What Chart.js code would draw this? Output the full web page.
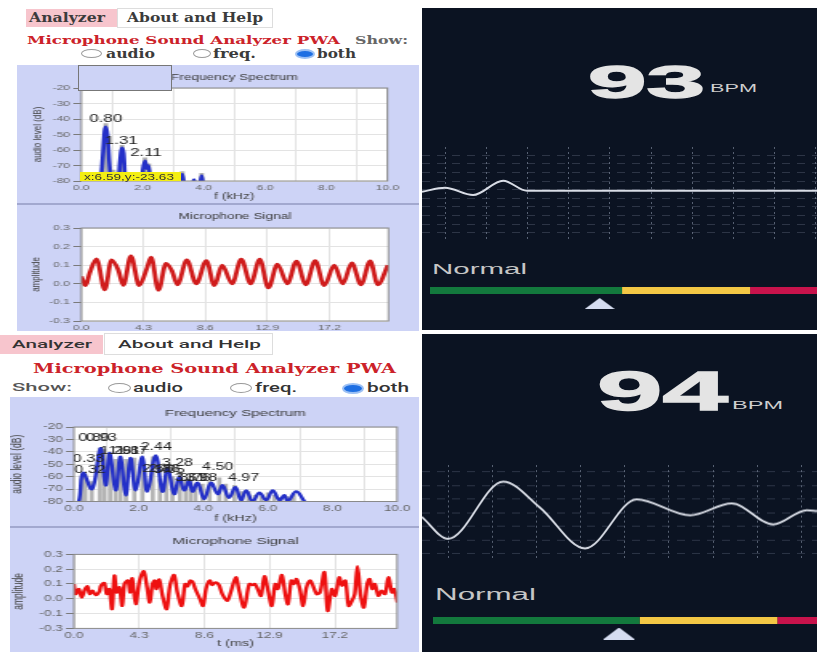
<!DOCTYPE html>
<html>
<head>
<meta charset="utf-8">
<title>Microphone Sound Analyzer and heart rate</title>
<script src="https://cdn.jsdelivr.net/npm/chart.js@4.4.1/dist/chart.umd.min.js"></script>
<style>
  html, body { margin: 0; padding: 0; }
  body { width: 817px; height: 652px; position: relative; overflow: hidden; background: #fff; }
  .box { position: absolute; }
  .t { position: absolute; white-space: nowrap; line-height: 1; transform-origin: 0 0; }
  .sf { font-family: "DejaVu Serif", serif; font-weight: bold; }
  .ss { font-family: Roboto, "DejaVu Sans", sans-serif; font-weight: 500; }
  .ls { font-family: "Liberation Sans", Arial, sans-serif; }
  .big { font-weight: bold; color: #e4e4e4; -webkit-text-stroke: 1.3px #e4e4e4; }
  .radio { position: absolute; border-radius: 50%; border: 1px solid #9a9a9a; background: #fff; box-sizing: border-box; }
  .radio.on { background: #1e6fe3; border: 2px solid #9cc0f4; }
  .stretch { position: absolute; transform-origin: 0 0; transform: scaleX(1.6); }
  .plain { position: absolute; }
</style>
</head>
<body>

<!-- top left: analyzer screenshot -->
<div class="box" style="left:0;top:0;width:421px;height:331px;overflow:hidden">
  <div class="box" style="left:26px;top:9px;width:91px;height:18px;background:#f7c5cd"></div>
  <div class="box" style="left:117px;top:8px;width:156px;height:20px;border:1px solid #ddd;box-sizing:border-box"></div>
  <span class="t sf" data-w="76" style="left:29px;top:11.7px;font-size:12.5px;color:#3b3b3b">Analyzer</span>
  <span class="t sf" data-w="136" style="left:127px;top:11.7px;font-size:12.5px;color:#3b3b3b">About and Help</span>
  <span class="t sf" data-w="313" style="left:27px;top:34.6px;font-size:11.5px;color:#cc2229">Microphone Sound Analyzer PWA</span>
  <span class="t sf" data-w="53" style="left:355px;top:34.6px;font-size:11.5px;color:#666">Show:</span>
  <div class="radio" style="left:81px;top:49px;width:21px;height:9px"></div>
  <span class="t sf" data-w="49" style="left:106px;top:48.2px;font-size:12px;color:#3b3b3b">audio</span>
  <div class="radio" style="left:193px;top:49px;width:18px;height:9px"></div>
  <span class="t sf" data-w="43" style="left:213px;top:48.2px;font-size:12px;color:#3b3b3b">freq.</span>
  <div class="radio on" style="left:295px;top:49px;width:20px;height:10px"></div>
  <span class="t sf" data-w="39" style="left:317px;top:48.2px;font-size:12px;color:#3b3b3b">both</span>

  <div class="box" style="left:17px;top:65px;width:402px;height:266px;background:#cdd3f6"></div>
  <div class="box" style="left:17px;top:203px;width:402px;height:2px;background:#a2a8cf"></div>
  <div class="stretch" style="left:17px;top:66px;width:250.6px;height:139px"><canvas id="specTop"></canvas></div>
  <div class="stretch" style="left:17px;top:205px;width:250.6px;height:140px"><canvas id="sigTop"></canvas></div>
  <div class="box" style="left:78px;top:65px;width:94px;height:26px;border:1px solid #777;box-sizing:border-box;background:#cdd3f6"></div>
  <div class="box" style="left:80px;top:172px;width:101px;height:9px;background:#f3ee12"></div>
  <span class="t ls" data-w="90" style="left:84px;top:172.6px;font-size:8.5px;color:#333">x:6.59,y:-23.63</span>
</div>

<!-- bottom left: analyzer screenshot -->
<div class="box" style="left:0;top:335px;width:103px;height:19px;background:#f7c5cd"></div>
<div class="box" style="left:104px;top:333px;width:169px;height:22px;border:1px solid #ddd;box-sizing:border-box"></div>
<span class="t ss" data-w="80" style="left:12px;top:339px;font-size:11px;color:#333">Analyzer</span>
<span class="t ss" data-w="143" style="left:118px;top:339px;font-size:11px;color:#333">About and Help</span>
<span class="t sf" data-w="363" style="left:33px;top:361.7px;font-size:13.7px;color:#cc2229">Microphone Sound Analyzer PWA</span>
<span class="t ss" data-w="60" style="left:12px;top:382px;font-size:11.5px;color:#555">Show:</span>
<div class="radio" style="left:108px;top:383px;width:23px;height:10px"></div>
<span class="t ss" data-w="50" style="left:133px;top:381.6px;font-size:12px;color:#333">audio</span>
<div class="radio" style="left:230px;top:383px;width:22px;height:10px"></div>
<span class="t ss" data-w="42" style="left:255px;top:381.6px;font-size:12px;color:#333">freq.</span>
<div class="radio on" style="left:342px;top:382.5px;width:22px;height:11px"></div>
<span class="t ss" data-w="42" style="left:367px;top:381.6px;font-size:12px;color:#333">both</span>

<div class="box" style="left:10px;top:397px;width:409px;height:255px;background:#cdd3f6"></div>
<div class="box" style="left:10px;top:525.5px;width:409px;height:2px;background:#a2a8cf"></div>
<div class="stretch" style="left:10px;top:397px;width:255px;height:130px"><canvas id="specBottom"></canvas></div>
<div class="stretch" style="left:10px;top:527px;width:255px;height:125px"><canvas id="sigBottom"></canvas></div>

<!-- right: heart rate screenshots -->
<div class="box" style="left:422px;top:8px;width:395px;height:322px;background:#0b1322"></div>
<div class="box" style="left:422px;top:334px;width:395px;height:318px;background:#0b1322"></div>

<span class="t ls big" data-w="117" style="left:588px;top:59.4px;font-size:46px">93</span>
<span class="t ls" data-w="47" style="left:710px;top:83.4px;font-size:11px;color:#cfcfcf">BPM</span>
<div class="plain" style="left:422px;top:147px;width:395px;height:94px"><canvas id="waveTop"></canvas></div>
<span class="t ls" data-w="95" style="left:432px;top:261.5px;font-size:14px;color:#c6c6c6">Normal</span>
<div class="plain" style="left:430px;top:284px;width:387px;height:26px"><canvas id="gaugeTop"></canvas></div>

<span class="t ls big" data-w="131" style="left:597px;top:362.7px;font-size:56px">94</span>
<span class="t ls" data-w="51" style="left:732px;top:399.2px;font-size:11.6px;color:#cfcfcf">BPM</span>
<div class="plain" style="left:422px;top:465.25px;width:395px;height:94.5px"><canvas id="waveBottom"></canvas></div>
<span class="t ls" data-w="101" style="left:435px;top:586.5px;font-size:16px;color:#c6c6c6">Normal</span>
<div class="plain" style="left:432.7px;top:613.5px;width:384.3px;height:26px"><canvas id="gaugeBottom"></canvas></div>

<script>
// spectrum, top screenshot (kHz, dB)
var specTopF = [0, 0.6, 0.68, 0.76, 0.8, 0.85, 0.93, 1.0, 1.2, 1.26, 1.33, 1.38, 1.45, 1.95, 2.02, 2.08, 2.14, 2.2, 2.28, 3.22, 3.3, 3.38, 3.62, 3.68, 3.74, 3.86, 3.93, 4.0, 10];
var specTopDb = [-84, -84, -70, -48, -45, -50, -72, -84, -84, -68, -58.5, -62, -84, -84, -72, -67, -72, -70, -84, -84, -75.5, -84, -84, -79, -84, -84, -76.5, -84, -84];
var barTopF = [0.8, 1.05, 1.33, 2.08, 2.2, 3.3, 3.93];
var barTopDb = [-43, -73, -57, -65, -69, -74, -75];
var labelTopText = ['0.80', '1.31', '2.11'];
var labelTopF = [0.8, 1.31, 2.11];
var labelTopDb = [-44, -58, -66];

// spectrum, bottom screenshot
var specBotF = [0, 0.15, 0.28, 0.56, 0.82, 0.98, 1.11, 1.29, 1.44, 1.6, 1.75, 1.91, 2.12, 2.27, 2.53, 2.74, 2.9, 3.1, 3.26, 3.41, 3.57, 3.67, 3.83, 4.03, 4.24, 4.45, 4.6, 4.8, 5.0, 5.17, 5.33, 5.53, 5.74, 5.95, 6.15, 6.36, 6.51, 6.62, 6.88, 7.14, 7.3, 10];
var specBotDb = [-84, -80, -57, -70, -37, -67, -41, -71, -44, -75, -45, -71, -44, -72, -43, -72, -53, -74, -60, -71, -63, -72, -65, -78, -65, -74, -67, -77, -68.5, -79, -71, -80, -73, -79, -71, -79, -75, -80, -72, -80, -84, -84];
var barBotF = [0.25, 0.35, 0.55, 0.8, 0.93, 1.12, 1.29, 1.44, 1.61, 1.87, 2.12, 2.44, 2.66, 2.86, 3.05, 3.28, 3.46, 3.61, 3.76, 3.98, 4.2, 4.5, 4.7, 4.97, 5.2, 5.4, 5.6, 5.8, 6.0, 6.2, 6.4, 6.6, 6.8];
var barBotDb = [-60, -58, -64, -37, -38, -44, -46, -44, -46, -45, -45, -44, -62, -59, -60, -56, -62, -63, -66, -66, -64, -61, -66, -67, -72, -72, -75, -76, -73, -75, -77, -76, -74];
var labelBotText = ['0.33', '0.32', '0.80', '0.93', '1.29', '1.61', '1.87', '2.44', '2.66', '2.86', '3.05', '3.28', '3.61', '3.76', '3.98', '4.50', '4.97'];
var labelBotF = [0.45, 0.5, 0.62, 0.85, 1.29, 1.55, 1.8, 2.55, 2.6, 2.8, 2.95, 3.2, 3.6, 3.75, 3.95, 4.45, 5.25];
var labelBotDb = [-51, -60, -34, -34, -44, -44, -44, -41, -59, -59, -60, -54, -66, -66, -66, -57, -66];

// microphone signal (ms, amplitude)
var sigTopT = [0, 0.3, 0.58, 1.05, 1.63, 2.1, 2.56, 2.91, 3.44, 4.02, 4.53, 4.84, 5.35, 5.88, 6.28, 6.67, 7.32, 7.97, 8.67, 9.23, 9.76, 10.46, 11.09, 11.74, 12.38, 12.97, 13.6, 14.29, 14.92, 15.57, 16.22, 16.84, 17.54, 18.13, 18.75, 19.4, 20.03, 20.56, 21.26];
var sigTopA = [0.04, -0.01, 0.057, 0.134, -0.032, 0.129, 0.075, -0.009, 0.15, -0.01, 0.08, 0.143, -0.035, 0.11, 0.07, -0.005, 0.129, 0.0, 0.125, -0.01, 0.1, 0.0, 0.132, 0.0, 0.132, -0.022, 0.106, 0.0, 0.122, -0.005, 0.125, -0.01, 0.1, 0.0, 0.112, -0.005, 0.123, -0.005, 0.1];
var sigBotT = [0, 0.11, 0.33, 0.51, 0.73, 0.89, 1.04, 1.22, 1.44, 1.67, 1.78, 2.0, 2.16, 2.33, 2.51, 2.67, 2.82, 3.0, 3.18, 3.33, 3.56, 3.71, 3.84, 4.07, 4.33, 4.6, 4.82, 5.0, 5.18, 5.33, 5.44, 5.62, 5.84, 6.11, 6.33, 6.6, 6.82, 7.11, 7.33, 7.49, 7.67, 7.84, 8.0, 8.33, 8.51, 8.73, 8.96, 9.11, 9.33, 9.56, 9.78, 10.11, 10.33, 10.67, 10.89, 11.22, 11.56, 11.78, 11.93, 12.11, 12.33, 12.56, 12.82, 13.04, 13.27, 13.44, 13.71, 13.93, 14.11, 14.33, 14.51, 14.67, 14.89, 15.11, 15.33, 15.56, 15.71, 16.0, 16.22, 16.51, 16.73, 17.0, 17.22, 17.49, 17.67, 17.89, 18.11, 18.33, 18.51, 18.69, 18.89, 19.11, 19.33, 19.49, 19.67, 19.84, 20.07, 20.29, 20.51, 20.73, 20.96, 21.11, 21.33];
var sigBotA = [0.1, 0.032, 0.066, 0.009, 0.066, 0.084, 0.032, 0.055, 0.025, 0.048, 0.089, 0.107, 0.032, 0.066, -0.07, 0.157, 0.043, 0.077, -0.048, 0.1, 0.123, 0.043, 0.139, -0.036, 0.123, 0.186, 0.077, -0.025, 0.1, 0.123, 0.066, 0.13, 0.02, -0.07, 0.089, 0.161, 0.043, -0.048, 0.1, 0.084, 0.123, 0.111, 0.066, -0.007, -0.048, 0.077, 0.123, 0.093, 0.111, 0.093, 0.032, -0.014, 0.043, 0.145, 0.055, -0.059, 0.1, 0.093, 0.1, 0.066, 0.02, 0.152, 0.043, -0.048, 0.1, 0.066, 0.161, 0.032, -0.036, 0.123, 0.1, 0.134, 0.066, -0.048, 0.077, 0.123, 0.1, 0.032, 0.043, 0.18, -0.082, 0.066, 0.02, 0.145, 0.089, 0.123, -0.048, -0.014, 0.032, 0.22, 0.032, -0.059, 0.1, 0.134, 0.066, 0.1, 0.02, 0.055, 0.032, 0.145, 0.043, 0.066, -0.025];

// tick labels
var freqTicks = [0, 2, 4, 6, 8, 10];
var dbTicks = [-80, -70, -60, -50, -40, -30, -20];
var timeTicks = [0, 4.3, 8.6, 12.9, 17.2];
var ampTicks = [-0.2, -0.1, 0, 0.1, 0.2, 0.3];
var ampTickLabels = ['-0.3', '-0.1', '0.0', '0.1', '0.2', '0.3'];

// heart rate traces (grid columns, grid rows)
var waveTopT = [-0.56, 0, 0.68, 1.41, 1.99, 2.6, 9.03];
var waveTopV = [4.77, 5.23, 4.38, 6.05, 4.88, 4.88, 4.88];
var waveBotT = [-0.59, 0, 1.25, 2.08, 3.1, 4.27, 5.48, 6.42, 7.36, 8.12, 8.35];
var waveBotV = [2.69, 1.09, 5.28, 3.38, 0.39, 3.98, 2.81, 3.68, 2.15, 3.19, 3.13];

// heart rate zones (BPM)
var zoneFrom = [40, 100, 140];
var zoneTo = [100, 140, 180];
var zoneColors = ['#13793d', '#f3c745', '#c8134c'];
var bpmTop = 93;
var bpmBottom = 94;

Chart.defaults.font.family = '"Liberation Sans", Arial, sans-serif';
Chart.defaults.animation = false;

function pts(xs, ys) {
  return xs.map(function (x, i) { return { x: x, y: ys[i] }; });
}
function bars(xs, ys) {
  return xs.map(function (x, i) { return { x: x, y: [-80, ys[i]] }; });
}

var plotFrame = {
  id: 'plotFrame',
  beforeDraw: function (chart) {
    var a = chart.chartArea, c = chart.ctx;
    c.save();
    c.fillStyle = '#fff';
    c.fillRect(a.left, a.top, a.width, a.height);
    c.restore();
  },
  afterDatasetsDraw: function (chart) {
    var a = chart.chartArea, c = chart.ctx;
    c.save();
    c.strokeStyle = '#8a8a8a';
    c.lineWidth = 1;
    c.strokeRect(a.left, a.top, a.width, a.height);
    c.restore();
  }
};

function peakLabels(text, xs, ys, size) {
  return {
    id: 'peakLabels',
    afterDatasetsDraw: function (chart) {
      var a = chart.chartArea, c = chart.ctx, sx = chart.scales.x, sy = chart.scales.y;
      c.save();
      c.beginPath();
      c.rect(a.left, a.top, a.width, a.height);
      c.clip();
      c.font = size + 'px "Liberation Sans", Arial, sans-serif';
      c.fillStyle = '#222';
      c.textAlign = 'center';
      c.textBaseline = 'bottom';
      text.forEach(function (s, i) {
        c.fillText(s, sx.getPixelForValue(xs[i]), sy.getPixelForValue(ys[i]) - 1);
      });
      c.restore();
    }
  };
}

function analyzer(id, o) {
  return new Chart(document.getElementById(id), {
    type: 'line',
    data: { datasets: o.datasets },
    options: {
      responsive: true,
      maintainAspectRatio: false,
      layout: { padding: { top: 0, left: 0, right: o.padRight, bottom: o.padBottom } },
      plugins: {
        legend: { display: false },
        tooltip: { enabled: false },
        title: {
          display: true, text: o.title, fullSize: false, color: '#3a3a3a',
          font: { size: o.titleSize, weight: 'normal' },
          padding: { top: o.titleTop, bottom: o.titleBottom }
        }
      },
      scales: {
        x: {
          type: 'linear', min: o.xMin, max: o.xMax, offset: false,
          afterBuildTicks: function (a) { a.ticks = o.xTicks.map(function (v) { return { value: v }; }); },
          afterFit: function (a) { a.height = o.xHeight; },
          ticks: { callback: function (v) { return v.toFixed(1); }, font: { size: o.tickSize }, color: '#666', padding: 2, maxRotation: 0, autoSkip: false },
          grid: { color: '#e3e3e3', drawTicks: false },
          border: { display: false },
          title: { display: true, text: o.xTitle, color: '#444', font: { size: o.xTitleSize }, padding: 0 }
        },
        y: {
          min: o.yMin, max: o.yMax,
          afterBuildTicks: function (a) { a.ticks = o.yTicks.map(function (v) { return { value: v }; }); },
          afterFit: function (a) { a.width = 40; },
          ticks: { callback: o.yLabel, font: { size: o.tickSize }, color: '#666', padding: 2, autoSkip: false },
          grid: { color: '#e3e3e3', tickLength: 5, tickColor: '#7a7a7a' },
          border: { display: false },
          title: { display: true, text: o.yTitle, color: '#444', font: { size: o.yTitleSize }, padding: { top: o.yTitlePad, bottom: 0 } }
        }
      }
    },
    plugins: [plotFrame].concat(o.extra || [])
  });
}

function dbLabel(v) { return String(v); }
function ampLabel(v, i) { return ampTickLabels[i]; }

analyzer('specTop', {
  title: 'Frequency Spectrum', titleSize: 8.5, titleTop: 6.9, titleBottom: 4.9,
  padRight: 20, padBottom: 3, xHeight: 21, tickSize: 7.5,
  xMin: 0, xMax: 10, xTicks: freqTicks, xTitle: 'f (kHz)', xTitleSize: 8.5,
  yMin: -80, yMax: -20, yTicks: dbTicks, yLabel: dbLabel, yTitle: 'audio level (dB)', yTitleSize: 8, yTitlePad: 7.7,
  datasets: [
    { type: 'bar', data: bars(barTopF, barTopDb), backgroundColor: '#b0b0b0', barThickness: 2.2, order: 2 },
    { data: pts(specTopF, specTopDb), borderColor: '#2430c8', borderWidth: 2.6, pointRadius: 0, cubicInterpolationMode: 'monotone', clip: 0, order: 1 }
  ],
  extra: [peakLabels(labelTopText, labelTopF, labelTopDb, 10.5)]
});

analyzer('sigTop', {
  title: 'Microphone Signal', titleSize: 8.5, titleTop: 6.6, titleBottom: 6.2,
  padRight: 19.35, padBottom: 3, xHeight: 21, tickSize: 7.5,
  xMin: 0, xMax: 21.3, xTicks: timeTicks, xTitle: 't (ms)', xTitleSize: 8.5,
  yMin: -0.2, yMax: 0.3, yTicks: ampTicks, yLabel: ampLabel, yTitle: 'amplitude', yTitleSize: 8, yTitlePad: 7.1,
  datasets: [
    { data: pts(sigTopT, sigTopA), borderColor: '#d01c1c', borderWidth: 2.8, pointRadius: 0, cubicInterpolationMode: 'monotone' }
  ]
});

analyzer('specBottom', {
  title: 'Frequency Spectrum', titleSize: 9.5, titleTop: 10.6, titleBottom: 8,
  padRight: 13.1, padBottom: 3.3, xHeight: 22.2, tickSize: 8.5,
  xMin: 0, xMax: 10, xTicks: freqTicks, xTitle: 'f (kHz)', xTitleSize: 9,
  yMin: -80, yMax: -20, yTicks: dbTicks, yLabel: dbLabel, yTitle: 'audio level (dB)', yTitleSize: 8.5, yTitlePad: 0,
  datasets: [
    { type: 'bar', data: bars(barBotF, barBotDb), backgroundColor: '#b4b4b4', barThickness: 2, order: 2 },
    { data: pts(specBotF, specBotDb), borderColor: '#2430c8', borderWidth: 2.4, pointRadius: 0, tension: 0.4, clip: 0, order: 1 }
  ],
  extra: [peakLabels(labelBotText, labelBotF, labelBotDb, 10)]
});

analyzer('sigBottom', {
  title: 'Microphone Signal', titleSize: 9.5, titleTop: 9, titleBottom: 7,
  padRight: 13.1, padBottom: 3.3, xHeight: 20.3, tickSize: 8.5,
  xMin: 0, xMax: 21.3, xTicks: timeTicks, xTitle: 't (ms)', xTitleSize: 9,
  yMin: -0.2, yMax: 0.3, yTicks: ampTicks, yLabel: ampLabel, yTitle: 'amplitude', yTitleSize: 8.5, yTitlePad: 1,
  datasets: [
    { data: pts(sigBotT, sigBotA), borderColor: '#ee1111', borderWidth: 2.4, pointRadius: 0, tension: 0.3 }
  ]
});

// grid lines on every whole unit of the scale
function intTicks(a) {
  var list = [];
  for (var v = Math.ceil(a.min); v <= Math.floor(a.max); v++) list.push({ value: v });
  a.ticks = list;
}

function wave(id, xs, ys, xr, yr) {
  return new Chart(document.getElementById(id), {
    type: 'line',
    data: { datasets: [{ data: pts(xs, ys), borderColor: '#d9dde6', borderWidth: 2, pointRadius: 0, cubicInterpolationMode: 'monotone' }] },
    options: {
      responsive: true,
      maintainAspectRatio: false,
      layout: { padding: 0, autoPadding: false },
      plugins: { legend: { display: false }, tooltip: { enabled: false } },
      scales: {
        x: { type: 'linear', min: xr[0], max: xr[1], afterBuildTicks: intTicks, ticks: { display: false }, grid: { color: 'rgba(150,160,180,0.55)', drawTicks: false }, border: { display: false, dash: [2, 3] } },
        y: { min: yr[0], max: yr[1], afterBuildTicks: intTicks, ticks: { display: false }, grid: { color: 'rgba(115,125,145,0.33)', drawTicks: false }, border: { display: false, dash: [8, 7] } }
      }
    }
  });
}

wave('waveTop', waveTopT, waveTopV, [-0.56, 9.03], [-0.96, 9.97]);
wave('waveBottom', waveBotT, waveBotV, [-0.59, 8.35], [-0.5, 6.5]);

function triangle(w, h) {
  var c = document.createElement('canvas');
  c.width = w;
  c.height = h;
  var g = c.getContext('2d');
  g.fillStyle = '#d5dcf0';
  g.beginPath();
  g.moveTo(w / 2, 0);
  g.lineTo(w, h);
  g.lineTo(0, h);
  g.closePath();
  g.fill();
  return c;
}

function gauge(id, bpm, xMax, tri) {
  var sets = zoneFrom.map(function (from, i) {
    return { data: [{ x: from, y: 1 }, { x: zoneTo[i], y: 1 }], borderColor: zoneColors[i], borderWidth: 7, borderCapStyle: 'butt', pointRadius: 0 };
  });
  sets.push({ data: [{ x: bpm, y: 0 }], showLine: false, pointStyle: tri, pointRadius: 12 });
  return new Chart(document.getElementById(id), {
    type: 'line',
    data: { datasets: sets },
    options: {
      responsive: true,
      maintainAspectRatio: false,
      layout: { padding: 0, autoPadding: false },
      plugins: { legend: { display: false }, tooltip: { enabled: false } },
      scales: {
        x: { type: 'linear', display: false, min: 40, max: xMax },
        y: { display: false, min: -0.5, max: 1.5 }
      }
    }
  });
}

gauge('gaugeTop', bpmTop, 160.9, triangle(30, 11));
gauge('gaugeBottom', bpmBottom, 151.6, triangle(32, 12));

// squeeze/stretch html text to the widths seen in the screenshots
document.querySelectorAll('.t').forEach(function (el) {
  var w = el.getBoundingClientRect().width;
  el.style.transform = 'scaleX(' + (parseFloat(el.dataset.w) / w) + ')';
});
</script>
</body>
</html>
